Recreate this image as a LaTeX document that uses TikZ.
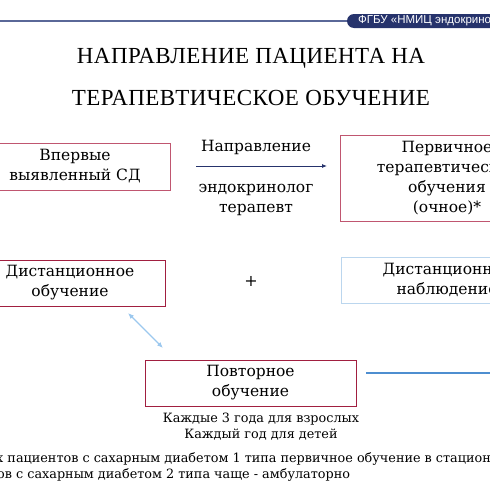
\documentclass[tikz,border=0pt]{standalone}
\usepackage{fontspec}
\setmainfont{DejaVu Serif}
\newfontfamily\titlefont[LetterSpace=2]{Liberation Serif}
\newfontfamily\headfont{Liberation Sans}
\usetikzlibrary{arrows.meta, positioning}

\definecolor{navy}{HTML}{26336C}
\definecolor{rule}{HTML}{5A6898}
\definecolor{rose}{HTML}{C05670}
\definecolor{crimson}{HTML}{A11F40}
\definecolor{sky}{HTML}{BBD6EE}
\definecolor{skyarrow}{HTML}{9CC8EE}
\definecolor{bluebar}{HTML}{4E8ED0}

\begin{document}
\begin{tikzpicture}[
  x=1pt, y=-1pt,
  box/.style = {draw=rose, line width=1pt, align=center, inner sep=0pt,
                font=\fontsize{15.5}{20}\selectfont},
  darkbox/.style = {box, draw=crimson},
  lightbox/.style = {box, draw=sky},
  label/.style = {align=center, font=\fontsize{15.5}{20}\selectfont},
  note/.style = {align=center, font=\fontsize{12.8}{15.5}\selectfont},
  title/.style = {font=\titlefont\fontsize{23}{40}\selectfont},
  arrow/.style = {navy, line width=0.8pt, -{Latex[length=5pt, width=4pt]}},
  twoway/.style = {skyarrow, line width=1.2pt, {Latex[length=6pt, width=5pt]}-{Latex[length=6pt, width=5pt]}},
]

% Frame
\useasboundingbox (0,0) rectangle (490,490);
\clip (0,0) rectangle (490,490);

% Header
\draw[rule, line width=1.2pt] (0,21) -- (360,21);
\fill[navy, rounded corners=7pt] (347,14) rectangle (520,28);
\node[anchor=west, text=white, font=\headfont\fontsize{11.5}{12}\selectfont, inner sep=0pt]
  (org) at (358,21) {ФГБУ «НМИЦ эндокринологии»};

% Title
\node[title] (title1) at (251,58) {НАПРАВЛЕНИЕ ПАЦИЕНТА НА};
\node[title] (title2) at (251,98) {ТЕРАПЕВТИЧЕСКОЕ ОБУЧЕНИЕ};

% Boxes
\node[box, minimum width=190pt, minimum height=47pt] (first) at (75,166.5)
  {Впервые\\выявленный СД};
\node[box, minimum width=214pt, minimum height=86pt] (primary) at (447,178)
  {Первичное\\терапевтическое\\обучения\\(очное)*};
\node[darkbox, minimum width=190pt, minimum height=46pt] (distant) at (70,283)
  {Дистанционное\\обучение};
\node[lightbox, minimum width=212pt, minimum height=46pt] (monitor) at (447,280)
  {Дистанционное\\наблюдение};
\node[darkbox, minimum width=211pt, minimum height=46pt] (repeat) at (250.5,383)
  {Повторное\\обучение};

% Referral arrow
\node[label] (referral) at (256,147) {Направление};
\node[label] (doctors) at (256,199.5) {эндокринолог\\терапевт};
\coordinate (from) at (196,166);
\coordinate (to) at (327,166);
\draw[arrow] (from) -- (to);

% Plus
\node[font=\fontsize{16}{16}\selectfont] (plus) at (251,281) {+};

% Link between distant and repeat
\coordinate (d1) at (128,313);
\coordinate (d2) at (163,348);
\draw[twoway] (d1) -- (d2);

% Line to the right
\coordinate (b1) at (366,373);
\coordinate (b2) at (500,373);
\draw[bluebar, line width=2.2pt] (b1) -- (b2);

% Notes
\node[note] (period) at (261,426.5) {Каждые 3 года для взрослых\\Каждый год для детей};
\node[note, anchor=west, inner sep=0pt] (foot1) at (-4,459)
  {х пациентов с сахарным диабетом 1 типа первичное обучение в стационаре};
\node[note, anchor=west, inner sep=0pt] (foot2) at (-3,475)
  {ов с сахарным диабетом 2 типа чаще - амбулаторно};

\end{tikzpicture}
\end{document}
